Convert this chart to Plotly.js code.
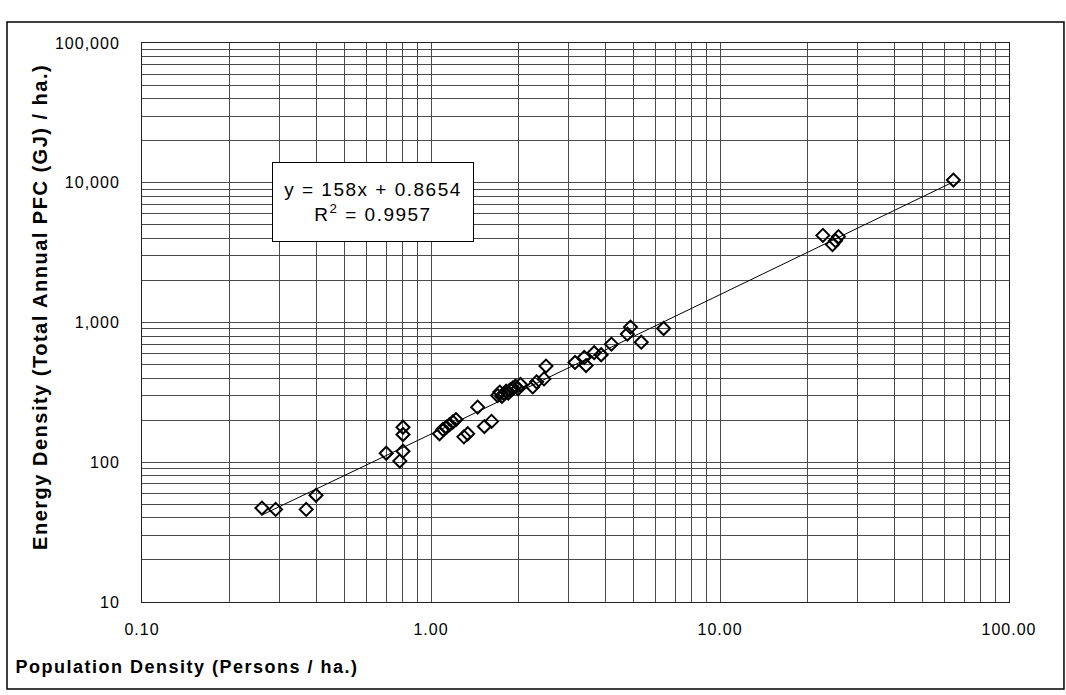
<!DOCTYPE html>
<html>
<head>
<meta charset="utf-8">
<script src="https://cdn.plot.ly/plotly-3.0.1.min.js"></script>
<style>
  html, body { margin: 0; padding: 0; background: #fff; }
  #chart { width: 1066px; height: 695px; }
  .annotation-text { letter-spacing: 1.5px; }
  .xtick text, .ytick text { letter-spacing: 1px; }
</style>
</head>
<body>
<div id="chart"></div>
<script>
// ---- Data ----
const popDensity = [0.26, 0.29, 0.37, 0.40, 0.70, 0.78, 0.80, 0.80, 0.80, 1.07,
  1.10, 1.13, 1.16, 1.19, 1.22, 1.30, 1.34, 1.45, 1.53, 1.62,
  1.70, 1.73, 1.76, 1.79, 1.82, 1.85, 1.88, 1.92, 1.96, 2.00,
  2.04, 2.25, 2.32, 2.46, 2.50, 3.15, 3.39, 3.44, 3.67, 3.88,
  4.21, 4.78, 4.90, 5.34, 6.38, 22.7, 24.5, 25.1, 25.7, 64.2];
const energyDensity = [47, 46, 46, 58, 116, 102, 120, 158, 178, 160,
  172, 178, 186, 194, 202, 152, 160, 248, 180, 196,
  300, 318, 296, 310, 322, 312, 330, 340, 350, 336,
  360, 346, 376, 395, 488, 518, 562, 492, 608, 588,
  700, 826, 927, 723, 906, 4200, 3610, 3850, 4115, 10450];

const trendSlope = 158;
const trendIntercept = 0.8654;
const rSquared = 0.9957;

const xTickVals = [0.1, 1, 10, 100];
const xTickText = ["0.10", "1.00", "10.00", "100.00"];
const yTickVals = [10, 100, 1000, 10000, 100000];
const yTickText = ["10", "100", "1,000", "10,000", "100,000"];

const xTitle = "Population Density (Persons / ha.)";
const yTitle = "Energy Density (Total Annual PFC (GJ) / ha.)";

// ---- Trend line evaluated at the data x values ----
const trendX = popDensity.slice().sort((a, b) => a - b);
const trendY = trendX.map(x => trendSlope * x + trendIntercept);

// minor gridline positions (2..9 within each decade)
function minorVals(lo, hi) {
  const v = [];
  for (let d = lo; d < hi; d++) {
    for (let k = 2; k <= 9; k++) v.push(k * Math.pow(10, d));
  }
  return v;
}

const gridCol = '#4a4a4a';
const font = { family: 'Liberation Sans, Arial, sans-serif', color: '#000' };

const traces = [
  {
    x: popDensity, y: energyDensity, type: 'scatter', mode: 'markers',
    marker: { symbol: 'diamond-open', size: 10, color: '#000', line: { color: '#000', width: 2 } },
    hoverinfo: 'x+y', showlegend: false
  },
  {
    x: trendX, y: trendY, type: 'scatter', mode: 'lines',
    line: { color: '#000', width: 1 }, hoverinfo: 'skip', showlegend: false
  }
];

const layout = {
  width: 1066, height: 695,
  margin: { l: 142, r: 57, t: 43, b: 93 },
  paper_bgcolor: '#fff', plot_bgcolor: '#fff',
  font: Object.assign({ size: 16 }, font),
  showlegend: false,
  xaxis: {
    type: 'log', range: [-1, 2],
    tickmode: 'array', tickvals: xTickVals, ticktext: xTickText,
    ticks: '', ticklabelstandoff: 13,
    tickfont: { size: 16, color: '#000', family: font.family },
    showgrid: true, gridcolor: gridCol, gridwidth: 1,
    minor: { tickmode: 'array', tickvals: minorVals(-1, 2), showgrid: true, gridcolor: gridCol, gridwidth: 1, ticks: '' },
    showline: true, linecolor: '#222', linewidth: 1, mirror: true,
    zeroline: false
  },
  yaxis: {
    type: 'log', range: [1, 5],
    tickmode: 'array', tickvals: yTickVals, ticktext: yTickText,
    ticks: '', ticklabelstandoff: 18,
    tickfont: { size: 16, color: '#000', family: font.family },
    showgrid: true, gridcolor: gridCol, gridwidth: 1,
    minor: { tickmode: 'array', tickvals: minorVals(1, 5), showgrid: true, gridcolor: gridCol, gridwidth: 1, ticks: '' },
    showline: true, linecolor: '#222', linewidth: 1, mirror: true,
    zeroline: false
  },
  annotations: [
    {
      xref: 'paper', yref: 'paper', x: -0.1522, y: -0.116,
      xanchor: 'left', yanchor: 'middle', showarrow: false,
      width: 350, align: 'center',
      text: '<b>' + xTitle + '</b>',
      font: { size: 18, color: '#000', family: font.family }
    },
    {
      xref: 'paper', yref: 'paper', x: -0.1176, y: 0.528,
      xanchor: 'center', yanchor: 'middle', showarrow: false, textangle: -90,
      text: '<b>' + yTitle + '</b>',
      font: { size: 20, color: '#000', family: font.family }
    },
    {
      xref: 'paper', yref: 'paper', x: 0.2659, y: 0.7147,
      xanchor: 'center', yanchor: 'middle', showarrow: false,
      text: 'y = ' + trendSlope + 'x + ' + trendIntercept + '<br>R<sup>2</sup> = ' + rSquared,
      font: { size: 19, color: '#000', family: font.family },
      bgcolor: '#fff', bordercolor: '#000', borderwidth: 1, borderpad: 4,
      width: 192, height: 70, align: 'center'
    }
  ],
  shapes: [
    {
      type: 'rect', xref: 'paper', yref: 'paper',
      x0: -0.1557, x1: 1.0634, y0: -0.1556, y1: 1.0376,
      line: { color: '#000', width: 1.5 }, fillcolor: 'rgba(0,0,0,0)', layer: 'below'
    }
  ]
};

Plotly.newPlot('chart', traces, layout, { displayModeBar: false, staticPlot: true });
</script>
</body>
</html>
